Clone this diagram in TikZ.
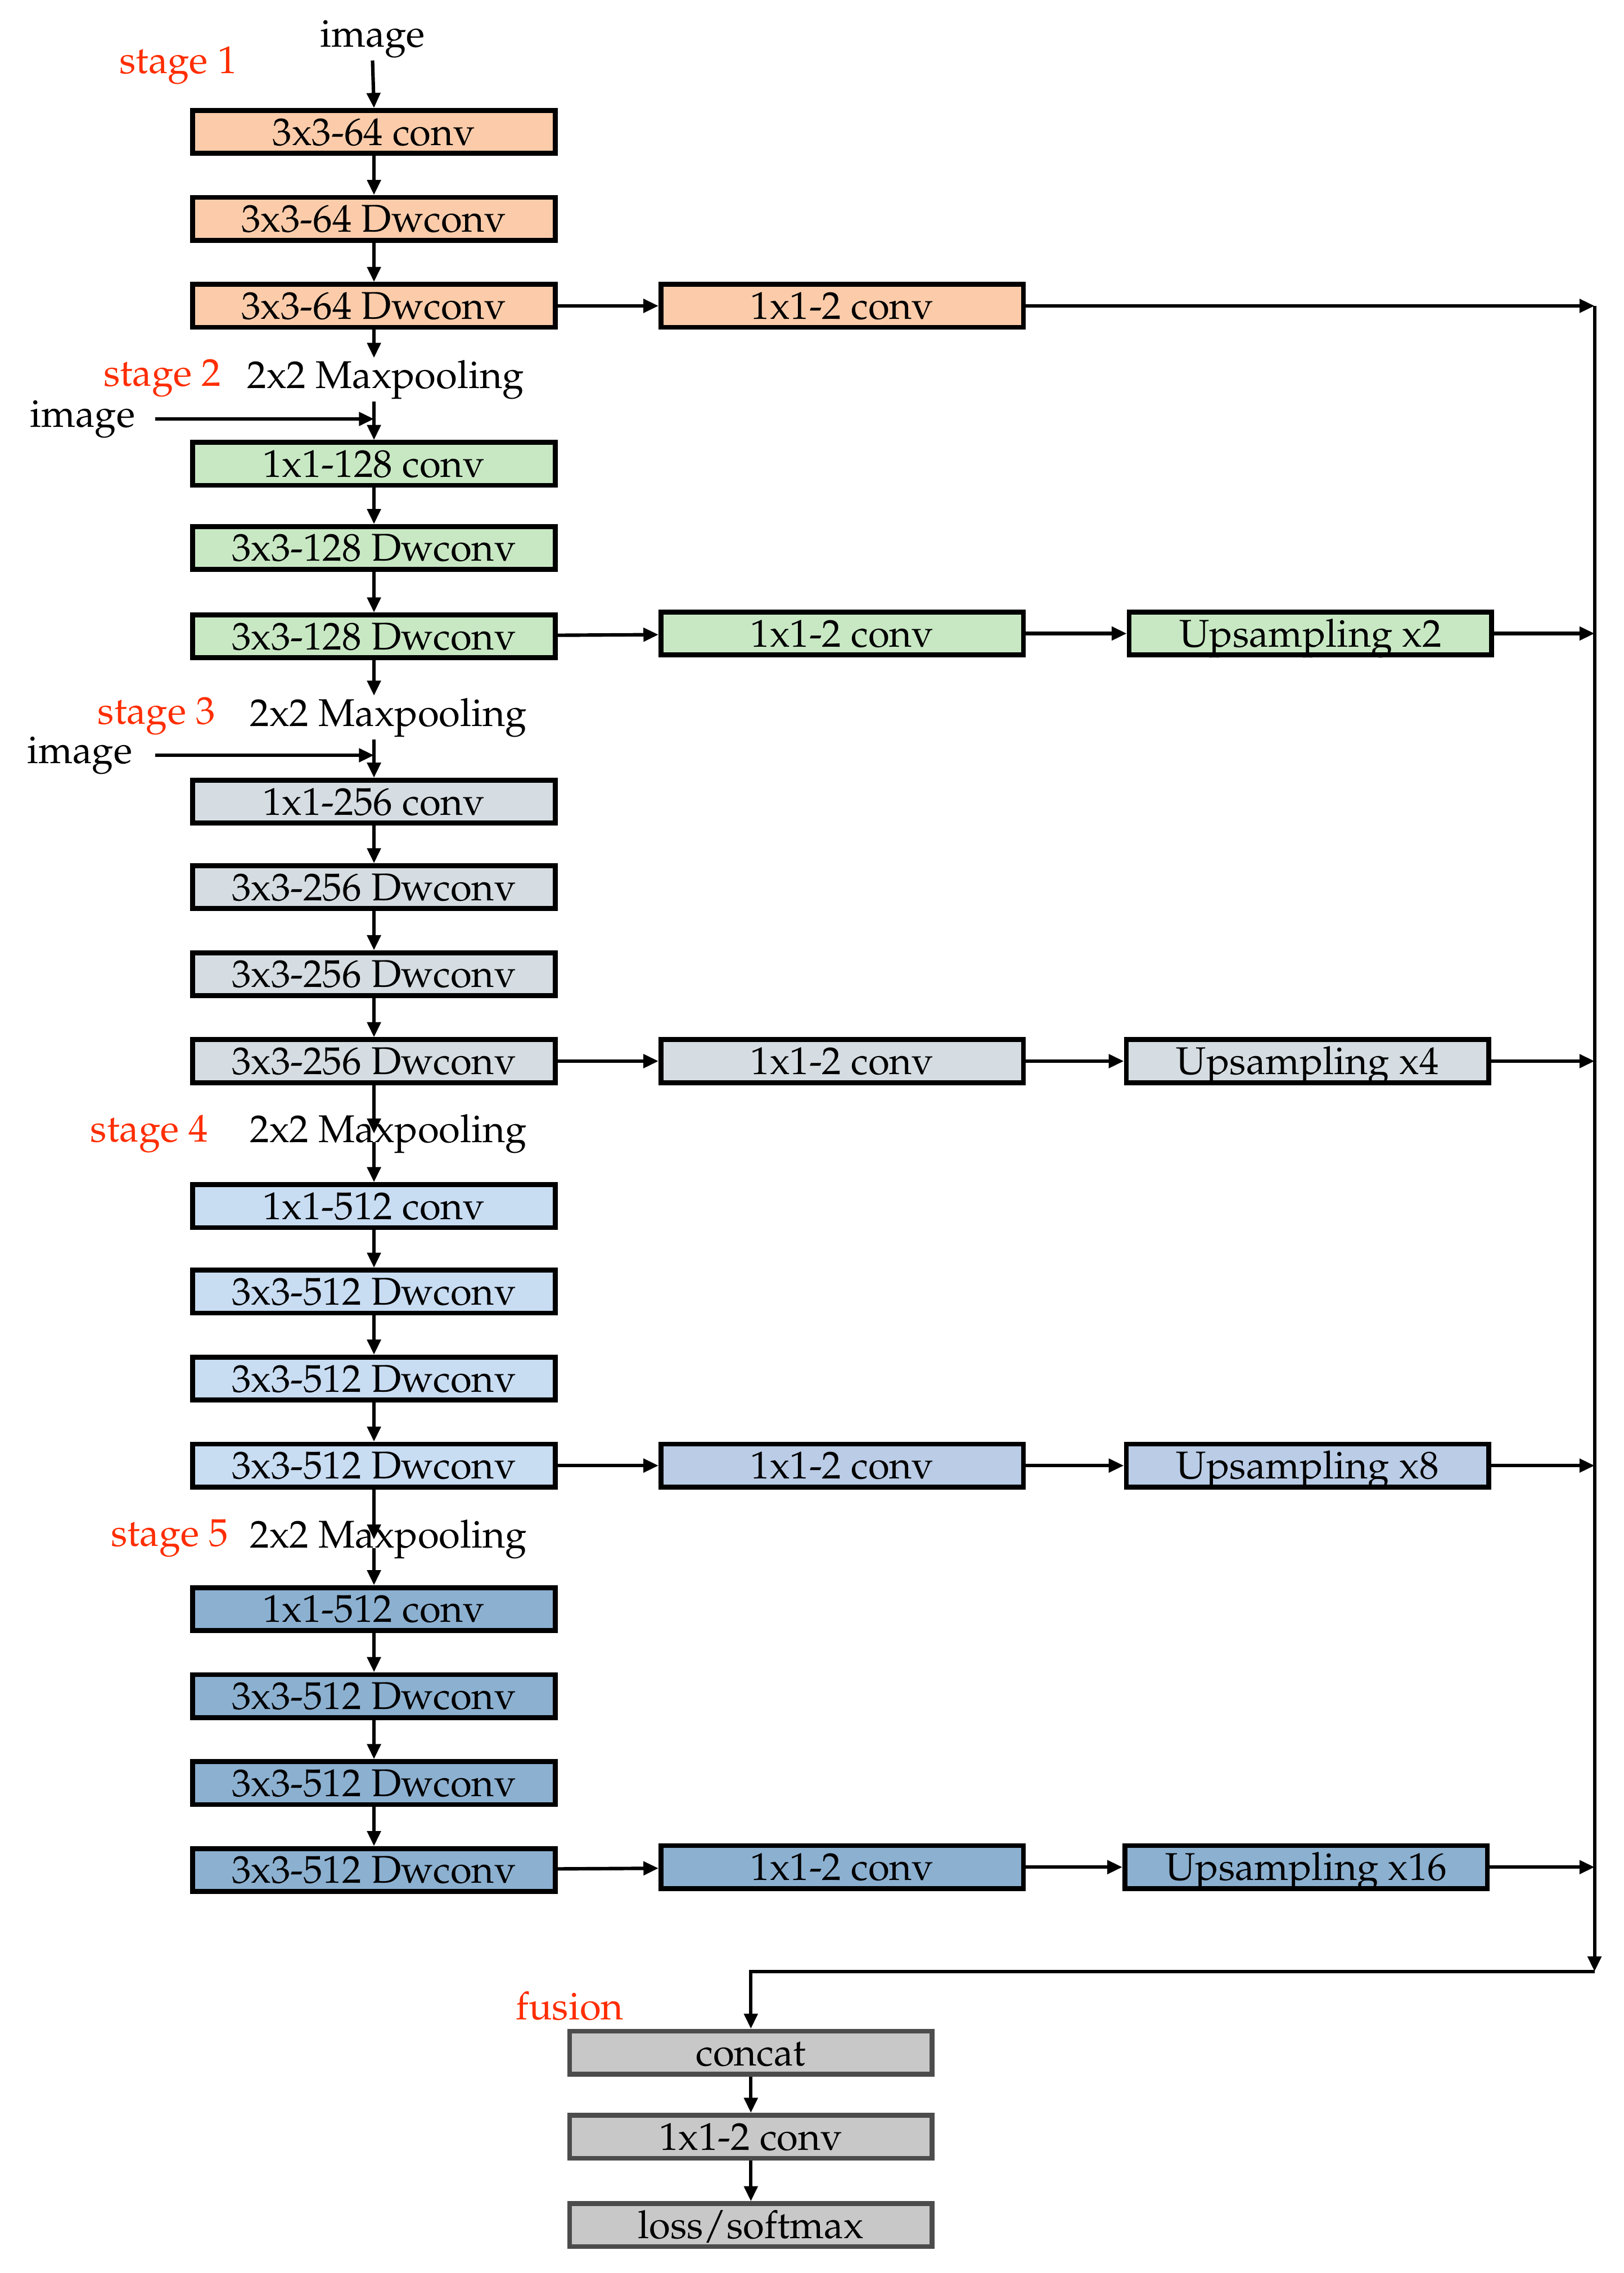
\documentclass[tikz,border=0pt]{standalone}
\usepackage[T1]{fontenc}
\usepackage{mathpazo}
\usetikzlibrary{arrows.meta,positioning}

\definecolor{peach}{RGB}{252,204,170}
\definecolor{mint}{RGB}{200,232,196}
\definecolor{ashgrey}{RGB}{213,221,226}
\definecolor{paleblue}{RGB}{200,220,242}
\definecolor{midblue}{RGB}{186,204,230}
\definecolor{deepblue}{RGB}{140,176,208}
\definecolor{fusegrey}{RGB}{200,200,200}
\definecolor{stagered}{RGB}{255,45,0}

\tikzset{
  layer/.style={draw=black, line width=2.4pt, minimum width=6.25cm, minimum height=0.74cm, inner sep=0pt, text height=16pt, text depth=3pt, font=\fontsize{19}{22}\selectfont},
  lbl/.style={inner sep=1pt, font=\fontsize{19}{22}\selectfont},
  stagelbl/.style={lbl, text=stagered},
  arr/.style={line width=1.7pt, -{Triangle[length=0.26cm,width=0.23cm]}},
  wire/.style={line width=1.7pt}
}

\begin{document}
\begin{tikzpicture}[x=0.025cm,y=-0.025cm]
		%%%%% FRAME %%%%%
		\useasboundingbox (0,0) rectangle (1120,1568);
		
		%%%%% STAGE 1 %%%%%
		\node[lbl] (img1) at (257,27) {image};
		\node[stagelbl] (st1) at (123,45) {stage 1};
		\node[layer, fill=peach] (b11) at (258,91) {3x3-64 conv};
		\node[layer, fill=peach] (b12) at (258,151) {3x3-64 Dwconv};
		\node[layer, fill=peach] (b13) at (258,211) {3x3-64 Dwconv};
		\node[layer, fill=peach] (r1) at (581,211) {1x1-2 conv};
		
		%%%%% STAGE 2 %%%%%
		\node[stagelbl] (st2) at (112,261) {stage 2};
		\node[lbl] (pool2) at (266,262) {2x2 Maxpooling};
		\node[lbl] (img2) at (57,289) {image};
		\node[layer, fill=mint] (b21) at (258,320) {1x1-128 conv};
		\node[layer, fill=mint] (b22) at (258,378) {3x3-128 Dwconv};
		\node[layer, fill=mint] (b23) at (258,439) {3x3-128 Dwconv};
		\node[layer, fill=mint] (r2) at (581,437) {1x1-2 conv};
		\node[layer, fill=mint] (u2) at (904,437) {Upsampling x2};
		
		%%%%% STAGE 3 %%%%%
		\node[stagelbl] (st3) at (108,494) {stage 3};
		\node[lbl] (pool3) at (268,495) {2x2 Maxpooling};
		\node[lbl] (img3) at (55,521) {image};
		\node[layer, fill=ashgrey] (b31) at (258,553) {1x1-256 conv};
		\node[layer, fill=ashgrey] (b32) at (258,612) {3x3-256 Dwconv};
		\node[layer, fill=ashgrey] (b33) at (258,672) {3x3-256 Dwconv};
		\node[layer, fill=ashgrey] (b34) at (258,732) {3x3-256 Dwconv};
		\node[layer, fill=ashgrey] (r3) at (581,732) {1x1-2 conv};
		\node[layer, fill=ashgrey] (u3) at (902,732) {Upsampling x4};
		
		%%%%% STAGE 4 %%%%%
		\node[stagelbl] (st4) at (103,782) {stage 4};
		\node[lbl] (pool4) at (268,782) {2x2 Maxpooling};
		\node[layer, fill=paleblue] (b41) at (258,832) {1x1-512 conv};
		\node[layer, fill=paleblue] (b42) at (258,891) {3x3-512 Dwconv};
		\node[layer, fill=paleblue] (b43) at (258,951) {3x3-512 Dwconv};
		\node[layer, fill=paleblue] (b44) at (258,1011) {3x3-512 Dwconv};
		\node[layer, fill=midblue] (r4) at (581,1011) {1x1-2 conv};
		\node[layer, fill=midblue] (u4) at (902,1011) {Upsampling x8};
		
		%%%%% STAGE 5 %%%%%
		\node[stagelbl] (st5) at (117,1061) {stage 5};
		\node[lbl] (pool5) at (268,1062) {2x2 Maxpooling};
		\node[layer, fill=deepblue] (b51) at (258,1110) {1x1-512 conv};
		\node[layer, fill=deepblue] (b52) at (258,1170) {3x3-512 Dwconv};
		\node[layer, fill=deepblue] (b53) at (258,1230) {3x3-512 Dwconv};
		\node[layer, fill=deepblue] (b54) at (258,1290) {3x3-512 Dwconv};
		\node[layer, fill=deepblue] (r5) at (581,1288) {1x1-2 conv};
		\node[layer, fill=deepblue] (u5) at (901,1288) {Upsampling x16};
		
		%%%%% FUSION %%%%%
		\node[stagelbl] (stf) at (393,1384) {fusion};
		\node[layer, fill=fusegrey, draw=black!70] (cat) at (518,1416) {concat};
		\node[layer, fill=fusegrey, draw=black!70] (fc) at (518,1474) {1x1-2 conv};
		\node[layer, fill=fusegrey, draw=black!70] (loss) at (518,1535) {loss/softmax};
		
		\coordinate (bustop) at (1100,211);
		\coordinate (busbot) at (1100,1360);
		
		%%%%% ARROWS %%%%%
		\draw[arr] (img1.south) -- (b11.north);
		\draw[arr] (b11) -- (b12);
		\draw[arr] (b12) -- (b13);
		\draw[arr] (b13.south) -- (b13.south |- pool2.north);
		\draw[arr] (b13.south |- pool2.south) -- (b21.north);
		\draw[arr, shorten <=0.3cm] (img2.east) -- (img2.east -| b21.north);
		\draw[arr] (b21) -- (b22);
		\draw[arr] (b22) -- (b23);
		\draw[arr] (b23.south) -- (b23.south |- pool3.north);
		\draw[arr] (b23.south |- pool3.south) -- (b31.north);
		\draw[arr, shorten <=0.35cm] (img3.east) -- (img3.east -| b31.north);
		\draw[arr] (b31) -- (b32);
		\draw[arr] (b32) -- (b33);
		\draw[arr] (b33) -- (b34);
		\draw[arr] (b34.south) -- (b34.south |- pool4.center);
		\draw[arr] (b34.south |- pool4.base) -- (b41.north);
		\draw[arr] (b41) -- (b42);
		\draw[arr] (b42) -- (b43);
		\draw[arr] (b43) -- (b44);
		\draw[arr] (b44.south) -- (b44.south |- pool5.center);
		\draw[arr] (b44.south |- pool5.base) -- (b51.north);
		\draw[arr] (b51) -- (b52);
		\draw[arr] (b52) -- (b53);
		\draw[arr] (b53) -- (b54);
		
		\draw[arr] (b13) -- (r1);
		\draw[arr] (r1) -- (r1 -| bustop);
		\draw[arr] (b23) -- (r2);
		\draw[arr] (r2) -- (u2);
		\draw[arr] (u2) -- (u2 -| bustop);
		\draw[arr] (b34) -- (r3);
		\draw[arr] (r3) -- (u3);
		\draw[arr] (u3) -- (u3 -| bustop);
		\draw[arr] (b44) -- (r4);
		\draw[arr] (r4) -- (u4);
		\draw[arr] (u4) -- (u4 -| bustop);
		\draw[arr] (b54) -- (r5);
		\draw[arr] (r5) -- (u5);
		\draw[arr] (u5) -- (u5 -| bustop);
		
		\draw[arr] (bustop) -- (busbot);
		\draw[arr] (busbot) -- (busbot -| cat.north) -- (cat.north);
		\draw[arr] (cat) -- (fc);
		\draw[arr] (fc) -- (loss);
\end{tikzpicture}
\end{document}
